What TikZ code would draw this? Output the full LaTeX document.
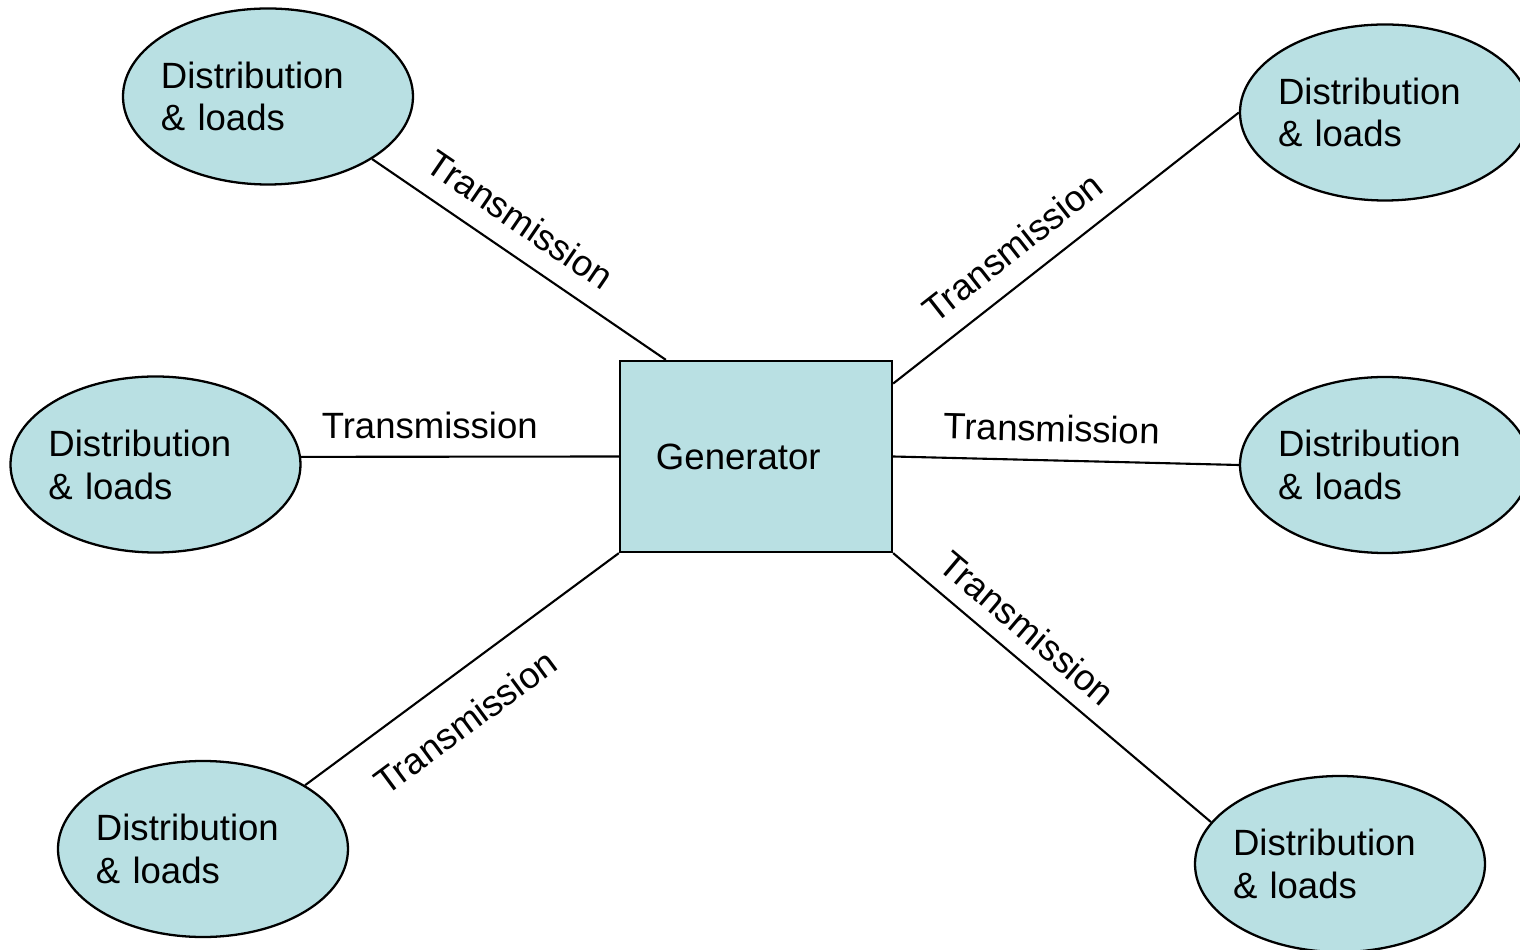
\documentclass[tikz,border=0pt]{standalone}
\usepackage{fontspec}
\setmainfont{Liberation Sans}
\usetikzlibrary{shapes.geometric,positioning}
\definecolor{loadblue}{RGB}{185,224,227}

\tikzset{
  load/.style={ellipse,draw,line width=1.3pt,fill=loadblue,minimum width=5.8cm,
    minimum height=3.52cm,inner xsep=-0.13cm,inner ysep=0pt,text width=4.28cm,align=left},
  plant/.style={rectangle,draw,line width=1.3pt,fill=loadblue,minimum width=5.44cm,
    minimum height=3.82cm,inner sep=0pt,text width=4cm,align=left},
  wire/.style={line width=1.2pt},
  linetext/.style={sloped,inner sep=0pt}
}

\begin{document}
\begin{tikzpicture}[on grid,font=\fontsize{20.8pt}{24.4pt}\selectfont]
\useasboundingbox (-15.12,-9.87) rectangle (15.28,9.13);
\node[plant] (gen) at (0,0) {Generator};
\node[load] (tl) [above left=7.2cm and 9.76cm of gen] {Distribution\\ \& loads};
\node[load] (tr) [above right=6.88cm and 12.58cm of gen] {Distribution\\ \& loads};
\node[load] (ml) [below left=0.16cm and 12.01cm of gen] {Distribution\\ \& loads};
\node[load] (mr) [below right=0.17cm and 12.58cm of gen] {Distribution\\ \& loads};
\node[load] (bl) [below left=7.85cm and 11.06cm of gen] {Distribution\\ \& loads};
\node[load] (br) [below right=8.15cm and 11.68cm of gen] {Distribution\\ \& loads};
\path[wire]
(tl.-31) edge node[linetext,pos=0.44,above=11pt] {Transmission} (gen.133)
(gen.28) edge node[linetext,pos=0.405,above=11pt] {Transmission} (tr.west)
(ml.3) edge node[linetext,pos=0.405,above=9.6pt] {Transmission} (gen.west)
(gen.east) edge node[linetext,pos=0.457,above=10pt] {Transmission} (mr.west)
(bl.32) edge node[linetext,pos=0.426,below=17pt] {Transmission} (gen.south west)
(gen.south east) edge node[linetext,pos=0.362,above=8.5pt] {Transmission} (br.162);
\end{tikzpicture}
\end{document}
